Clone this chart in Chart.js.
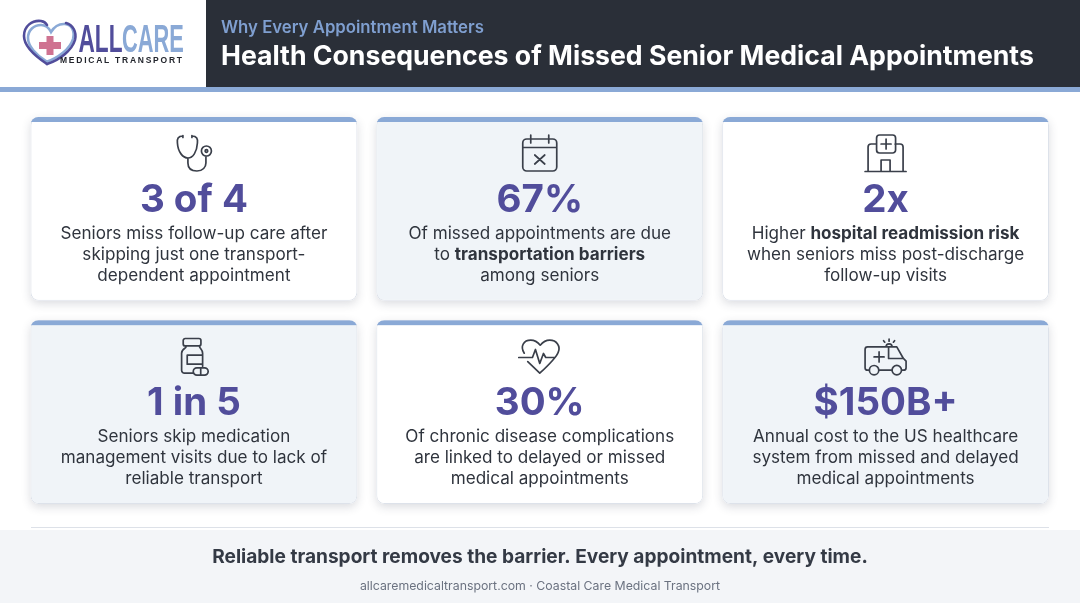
<!DOCTYPE html>
<html>
<head>
<meta charset="utf-8">
<title>Health Consequences of Missed Senior Medical Appointments</title>
<script src="https://cdn.jsdelivr.net/npm/chart.js@4"></script>
<style>
  html, body { margin: 0; padding: 0; background: #fff; overflow: hidden; }
  canvas { display: block; }
</style>
</head>
<body>
<canvas id="chart" width="1080" height="603"></canvas>
<script>
// chart content
const subtitle = 'Why Every Appointment Matters';
const title = 'Health Consequences of Missed Senior Medical Appointments';
const columns = ['Follow-up', 'Barriers', 'Readmission'];
const topStats = ['3 of 4', '67%', '2x'];
const bottomStats = ['1 in 5', '30%', '$150B+'];
// *...* marks the bold part of a line
const topText = [
  ['Seniors miss follow-up care after', 'skipping just one transport-', 'dependent appointment'],
  ['Of missed appointments are due', 'to *transportation barriers*', 'among seniors'],
  ['Higher *hospital readmission risk*', 'when seniors miss post-discharge', 'follow-up visits']
];
const bottomText = [
  ['Seniors skip medication', 'management visits due to lack of', 'reliable transport'],
  ['Of chronic disease complications', 'are linked to delayed or missed', 'medical appointments'],
  ['Annual cost to the US healthcare', 'system from missed and delayed', 'medical appointments']
];
const footerLine = 'Reliable transport removes the barrier. Every appointment, every time.';
const footerSource = 'allcaremedicaltransport.com \u00b7 Coastal Care Medical Transport';

// card spans on the row axis, top row sits above the bottom row
const topRowSpan = [[1.05, 2], [1.05, 2], [1.05, 2]];
const bottomRowSpan = [[0, 0.95], [0, 0.95], [0, 0.95]];

const WHITE = '#ffffff', SHADE = '#f0f4f8', ACCENT = '#8aa9d6', INK = '#3a3f4a', PURPLE = '#514d9b';
const FONT = 'Inter, "Noto Sans", sans-serif';

// icons, drawn around the middle of the card
const icons = {
  stethoscope: 'M-11 -17 C-16 -17 -17 -14 -16.5 -10 C-16 -1 -11 5 -6 5 C-1 5 3 -1 3.5 -10 C4 -14 3 -17 -2 -17 M-11 -17.5 V-15.5 M-2 -17.5 V-15.5 M-6 5 V10 C-6 16 -2 18 3 18 C9 18 12 14 12 10 V4 M17.5 -2 a5 5 0 1 1 -10 0 a5 5 0 1 1 10 0 M13.8 -2 a1.3 1.3 0 1 1 -2.6 0 a1.3 1.3 0 1 1 2.6 0',
  calendar: 'M-13 -14 H13 a4 4 0 0 1 4 4 V14 a4 4 0 0 1 -4 4 H-13 a4 4 0 0 1 -4 -4 V-10 a4 4 0 0 1 4 -4Z M-17 -5.5 H17 M-9 -18 V-10 M9 -18 V-10 M-5 2 L5 11 M5 2 L-5 11',
  hospital: 'M-20.5 18.5 H20.5 M-17.5 18.5 V-6 a3 3 0 0 1 3 -3 H-9 M17.5 18.5 V-6 a3 3 0 0 0 -3 -3 H9.5 M-6 -18 H7 a3 3 0 0 1 3 3 V-3 a3 3 0 0 1 -3 3 H-6 a3 3 0 0 1 -3 -3 V-15 a3 3 0 0 1 3 -3Z M0.5 -14 V-4 M-4.5 -9 H5.5 M-4.5 18.5 V7 H4.5 V18.5',
  bottle: 'M-8.7 -17.7 H5 a2 2 0 0 1 2 2 V-12.3 a2 2 0 0 1 -2 2 H-8.7 a2 2 0 0 1 -2 -2 V-15.7 a2 2 0 0 1 2 -2Z M-8 -10 V-9 C-8 -8 -12.3 -7 -12.3 -3 V14 a3 3 0 0 0 3 3 H-1 M8.7 10 V-3 C8.7 -7 5.5 -8 5.5 -10 M-6.7 -1 H8.7 V8 H-6.7Z M3 11.7 H10.6 a3.65 3.65 0 0 1 0 7.3 H3 a3.65 3.65 0 0 1 0 -7.3Z M6.8 11.7 V19',
  heart: 'M-15.5 -3 C-20 -10 -16 -16 -9 -16 C-5 -16 -2 -14 0.5 -11 C3 -14 6 -16 10 -16 C17 -16 21 -10 18.5 -4 C17 0 13 5 0 17 L-12 5.5 M-21 1.3 H-7.3 L-4.3 -6.7 L0 7.3 L3.7 -2.7 L6 1.3 H15',
  ambulance: 'M-16.2 14 H-18 a2.5 2.5 0 0 1 -2.5 -2.5 V-6.8 a2.5 2.5 0 0 1 2.5 -2.5 H11.2 L17.8 2.3 L20.5 5 V11.5 a2.5 2.5 0 0 1 -2.5 2.5 H15.9 M3 -9.3 V2.3 H17.8 M-6.8 14 H6.5 M-6.5 -4.3 V5.7 M-11.5 0.7 H-1.5 M-6.8 14 a4.7 4.7 0 1 1 -9.4 0 a4.7 4.7 0 1 1 9.4 0 M15.9 14 a4.7 4.7 0 1 1 -9.4 0 a4.7 4.7 0 1 1 9.4 0 M0.5 -9.3 a3 3 0 0 1 6 0 M3.5 -17 V-15 M-2 -15.5 L-0.8 -14 M9 -15.5 L7.8 -14'
};
const topIcons = ['stethoscope', 'calendar', 'hospital'];
const bottomIcons = ['bottle', 'heart', 'ambulance'];

function drawLogo(ctx) {
  ctx.save();
  ctx.lineCap = 'round';
  ctx.lineWidth = 2.6;
  ctx.strokeStyle = ACCENT;
  ctx.stroke(new Path2D('M46 61 C36 55 28 46 28 38 C28 30 34 25 41 25 C46 25 49 28 51 32 C54 27 59 23.5 65 24 C72 25 75 31 73 39 C70 49 58 58 46 62'));
  ctx.strokeStyle = PURPLE;
  ctx.stroke(new Path2D('M47 64 C38 58 24 47 24 36 C24 26 32 20 41 21 C44 21.5 46 23 47 25'));
  ctx.stroke(new Path2D('M66 23 C73 25 77 32 75 40 C72 50 60 60 47 64'));
  ctx.fillStyle = '#cf7391';
  ctx.fillRect(46.5, 36, 7, 19);
  ctx.fillRect(39, 42, 22, 7);

  ctx.textBaseline = 'alphabetic';
  ctx.textAlign = 'left';
  ctx.font = 'bold 39px "Liberation Sans"';
  ctx.save();
  ctx.translate(78.5, 52);
  ctx.scale(0.58, 1);
  ctx.fillStyle = PURPLE;
  ctx.fillText('ALL', 0, 0);
  ctx.restore();
  ctx.save();
  ctx.translate(122, 52);
  ctx.scale(0.56, 1);
  ctx.fillStyle = ACCENT;
  ctx.fillText('CARE', 0, 0);
  ctx.restore();
  ctx.fillStyle = '#23262d';
  ctx.font = 'bold 8.5px "Liberation Sans"';
  ctx.letterSpacing = '1.75px';
  ctx.fillText('MEDICAL TRANSPORT', 60, 63);
  ctx.restore();
}

function drawMixedLine(ctx, line, cx, y) {
  const parts = line.split('*');
  const fontFor = i => (i % 2 ? '700' : '400') + ' 17.1px ' + FONT;
  let width = 0;
  parts.forEach((p, i) => { ctx.font = fontFor(i); width += ctx.measureText(p).width; });
  let x = cx - width / 2;
  ctx.textAlign = 'left';
  parts.forEach((p, i) => {
    ctx.font = fontFor(i);
    ctx.fillText(p, x, y);
    x += ctx.measureText(p).width;
  });
}

// header and footer bands go under the cards
const pagePlugin = {
  id: 'page',
  beforeDraw(chart) {
    const ctx = chart.ctx;
    ctx.save();
    ctx.fillStyle = '#fff';
    ctx.fillRect(0, 0, 1080, 603);
    ctx.fillStyle = '#2a2f38';
    ctx.fillRect(206, 0, 874, 87);
    ctx.fillStyle = ACCENT;
    ctx.fillRect(0, 87, 1080, 5);
    ctx.fillStyle = '#f3f5f8';
    ctx.fillRect(0, 530, 1080, 73);
    ctx.fillStyle = '#dde1e8';
    ctx.fillRect(31, 527, 1018, 1);

    ctx.textBaseline = 'middle';
    ctx.textAlign = 'left';
    ctx.fillStyle = '#7f9fd0';
    ctx.font = '600 16.75px ' + FONT;
    ctx.fillText(subtitle, 221, 28);
    ctx.fillStyle = '#ffffff';
    ctx.font = '700 26.65px ' + FONT;
    ctx.fillText(title, 221, 57);

    ctx.textAlign = 'center';
    ctx.fillStyle = '#343a45';
    ctx.font = '700 19.1px ' + FONT;
    ctx.fillText(footerLine, 540, 557);
    ctx.fillStyle = '#6b7280';
    ctx.font = '400 12.3px ' + FONT;
    ctx.fillText(footerSource, 540, 586.5);
    ctx.restore();
    drawLogo(ctx);
  },
  // soft shadow under each card
  beforeDatasetsDraw(chart) {
    const ctx = chart.ctx;
    chart.data.datasets.forEach((ds, d) => {
      chart.getDatasetMeta(d).data.forEach(bar => {
        ctx.save();
        ctx.shadowColor = 'rgba(40,50,70,0.17)';
        ctx.shadowBlur = 10;
        ctx.shadowOffsetY = 3;
        ctx.fillStyle = '#fff';
        ctx.beginPath();
        ctx.roundRect(bar.x - bar.width / 2, bar.y, bar.width, bar.base - bar.y, 8);
        ctx.fill();
        ctx.restore();
      });
    });
  },
  afterDatasetsDraw(chart) {
    const ctx = chart.ctx;
    chart.data.datasets.forEach((ds, d) => {
      chart.getDatasetMeta(d).data.forEach((bar, i) => {
        const left = bar.x - bar.width / 2;
        const top = bar.y;
        const height = bar.base - bar.y;

        // accent strip along the top edge
        ctx.save();
        ctx.beginPath();
        ctx.roundRect(left, top, bar.width, height, 8);
        ctx.clip();
        ctx.fillStyle = ACCENT;
        ctx.fillRect(left, top, bar.width, 5);
        ctx.restore();

        ctx.save();
        ctx.translate(bar.x, top + 36);
        ctx.strokeStyle = INK;
        ctx.lineWidth = 1.7;
        ctx.lineCap = 'round';
        ctx.lineJoin = 'round';
        ctx.stroke(new Path2D(icons[ds.icons[i]]));
        ctx.restore();

        ctx.save();
        ctx.textBaseline = 'middle';
        ctx.textAlign = 'center';
        ctx.fillStyle = PURPLE;
        ctx.font = '700 38.5px ' + FONT;
        ctx.fillText(ds.stats[i], bar.x, top + 83);
        ctx.fillStyle = '#2f343d';
        ds.text[i].forEach((line, l) => drawMixedLine(ctx, line, bar.x, top + 117 + l * 21));
        ctx.restore();
      });
    });
  }
};

new Chart(document.getElementById('chart'), {
  type: 'bar',
  data: {
    labels: columns,
    datasets: [
      { label: 'Top row', data: topRowSpan, stats: topStats, text: topText, icons: topIcons,
        backgroundColor: [WHITE, SHADE, WHITE] },
      { label: 'Bottom row', data: bottomRowSpan, stats: bottomStats, text: bottomText, icons: bottomIcons,
        backgroundColor: [SHADE, WHITE, SHADE] }
    ]
  },
  options: {
    responsive: false,
    animation: false,
    devicePixelRatio: 1,
    layout: { padding: { left: 21, right: 21.5, top: 117, bottom: 99 } },
    datasets: { bar: {
      grouped: false,
      clip: false,
      categoryPercentage: 0.945,
      barPercentage: 1,
      borderWidth: 1,
      borderColor: '#dde2ea',
      borderRadius: 8,
      borderSkipped: false
    } },
    plugins: { legend: { display: false }, tooltip: { enabled: false }, title: { display: false } },
    scales: {
      x: { display: false },
      y: { display: false, min: 0, max: 2 }
    }
  },
  plugins: [pagePlugin]
});
</script>
</body>
</html>
